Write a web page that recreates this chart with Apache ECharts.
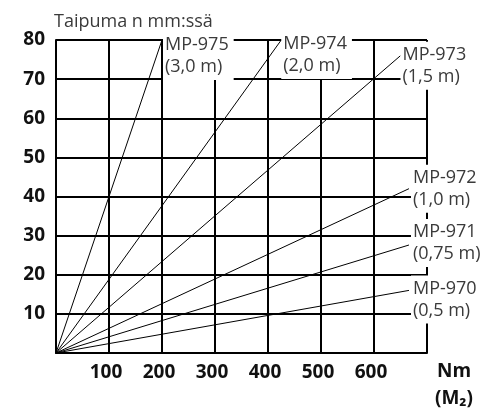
<!DOCTYPE html>
<html><head><meta charset="utf-8">
<script src="https://cdn.jsdelivr.net/npm/echarts@6/dist/echarts.min.js"></script>
<style>html,body{margin:0;padding:0;background:#fff}#c{width:493px;height:412px}</style>
</head><body><div id="c"></div>
<script>
// Data
const seriesNames = ['MP-975', 'MP-974', 'MP-973', 'MP-972', 'MP-971', 'MP-970'];
const lengths = ['(3,0 m)', '(2,0 m)', '(1,5 m)', '(1,0 m)', '(0,75 m)', '(0,5 m)'];
const endTorque = [200, 425, 650, 666, 666, 666];      // Nm
const endDeflection = [80, 80, 76, 42, 27.6, 16];      // mm
const xTicks = [100, 200, 300, 400, 500, 600];
const yTicks = [10, 20, 30, 40, 50, 60, 70, 80];

// label placement (style only)
const labelOffsets = [[1, 16], [0, 15], [0, 10], [2, 0], [2, -2], [2, 9]];

const chart = echarts.init(document.getElementById('c'), null, {renderer: 'canvas'});
const FONT = '"Open Sans", sans-serif';

const series = seriesNames.map((n, i) => ({
  name: n,
  type: 'line',
  data: [[0, 0], [endTorque[i], endDeflection[i]]],
  symbol: 'none',
  silent: true,
  lineStyle: {color: '#000', width: 1},
  endLabel: {
    show: true,
    formatter: () => n + '\n' + lengths[i],
    distance: 0,
    offset: labelOffsets[i],
    backgroundColor: '#fff',
    padding: [2, 5, 2, 2],
    color: '#3a3a3a',
    fontFamily: FONT,
    fontSize: 18,
    lineHeight: 22
  }
}));

chart.setOption({
  animation: false,
  backgroundColor: '#fff',
  grid: {left: 56, right: 66, top: 40, bottom: 56, containLabel: false},
  xAxis: {
    type: 'value', min: 0, max: 700, interval: 100,
    name: 'Nm\n(M₂)', nameLocation: 'end', nameGap: 27,
    nameTextStyle: {fontFamily: FONT, fontSize: 19, fontWeight: 'bold', color: '#111',
      align: 'center', verticalAlign: 'top', lineHeight: 27, padding: [5, 0, 0, 0]},
    axisLine: {show: true, lineStyle: {color: '#000', width: 2}},
    axisTick: {show: false},
    splitLine: {show: true, lineStyle: {color: '#000', width: 2}},
    axisLabel: {
      margin: 10, fontFamily: FONT, fontSize: 19, fontWeight: 'bold', color: '#111',
      padding: [0, 6, 0, 0],
      formatter: v => xTicks.includes(v) ? String(v) : ''
    }
  },
  yAxis: {
    type: 'value', min: 0, max: 80, interval: 10,
    name: 'Taipuma n mm:ssä', nameLocation: 'end', nameGap: 9,
    nameTextStyle: {fontFamily: FONT, fontSize: 18, color: '#3a3a3a', align: 'left', verticalAlign: 'bottom', padding: [0, 0, 0, -2]},
    axisLine: {show: true, lineStyle: {color: '#000', width: 2}},
    axisTick: {show: false},
    splitLine: {show: true, lineStyle: {color: '#000', width: 2}},
    axisLabel: {
      margin: 11, fontFamily: FONT, fontSize: 19, fontWeight: 'bold', color: '#111',
      formatter: v => yTicks.includes(v) ? String(v) : ''
    }
  },
  series: series
});
</script></body></html>
